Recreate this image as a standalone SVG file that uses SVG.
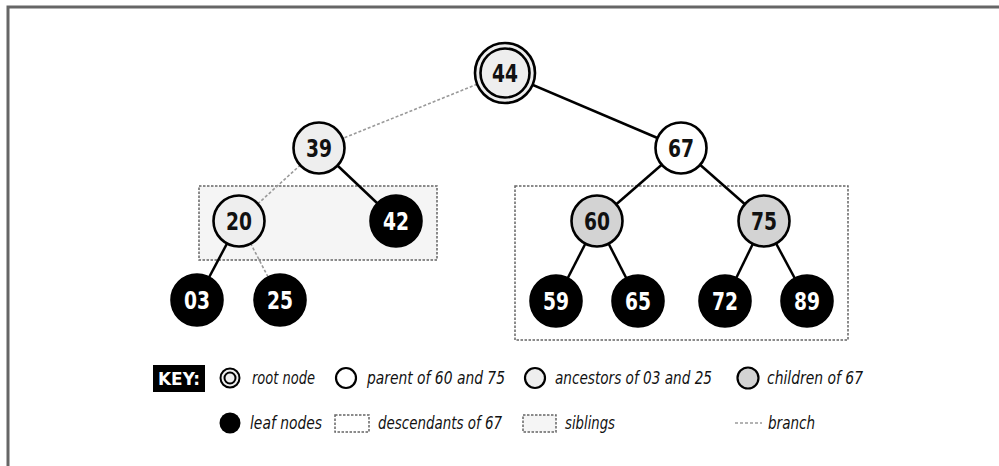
<svg xmlns="http://www.w3.org/2000/svg" width="999" height="466" viewBox="0 0 999 466">
<defs>
<style>
.frame{stroke:#666;stroke-width:3;fill:none}
.n{stroke:#000;stroke-width:2.6}
.root{fill:#eeeeee}
.anc{fill:#eeeeee}
.par{fill:#ffffff}
.chi{fill:#d3d3d3}
.leaf{fill:#000000}
.lbl{font-family:"Liberation Sans Narrow","DejaVu Sans Condensed","Liberation Sans",sans-serif;font-weight:bold;font-size:25px;text-anchor:middle}
.dk{fill:#111}
.wt{fill:#fff}
.edge{stroke:#000;stroke-width:2.5;fill:none}
.br{stroke:#9a9a9a;stroke-width:1.6;stroke-dasharray:3 2;fill:none}
.box{stroke:#666;stroke-width:1.5;stroke-dasharray:2.5 1.5}
.key{font-family:"Liberation Sans Narrow","DejaVu Sans Condensed","Liberation Sans",sans-serif;font-style:italic;font-size:18px;fill:#111}
</style>
</defs>
<rect width="999" height="466" fill="#fff"/>
<path class="frame" d="M8 466 V7 H999"/>
<g id="boxes">
<rect class="box" x="199" y="186" width="238" height="74" fill="#f5f5f5"/>
<rect class="box" x="515" y="186" width="333" height="154" fill="none"/>
</g>
<g id="connectors">
<line class="br" x1="505" y1="73" x2="319" y2="148"/>
<line class="br" x1="319" y1="148" x2="239" y2="221"/>
<line class="br" x1="239" y1="221" x2="280" y2="300"/>
<line class="edge" x1="505" y1="73" x2="681" y2="148"/>
<line class="edge" x1="319" y1="148" x2="396" y2="221"/>
<line class="edge" x1="239" y1="221" x2="197" y2="300"/>
<line class="edge" x1="681" y1="148" x2="597" y2="221"/>
<line class="edge" x1="681" y1="148" x2="764" y2="221"/>
<line class="edge" x1="597" y1="221" x2="556" y2="301"/>
<line class="edge" x1="597" y1="221" x2="638" y2="301"/>
<line class="edge" x1="764" y1="221" x2="725" y2="301"/>
<line class="edge" x1="764" y1="221" x2="807" y2="301"/>
</g>
<g id="n44"><circle class="n root" cx="505" cy="73" r="30"/><circle class="n" fill="none" cx="505" cy="73" r="24.5"/><text class="lbl dk" x="505" y="82" textLength="26" lengthAdjust="spacingAndGlyphs">44</text></g>
<g id="n39"><circle class="n anc" cx="319" cy="148" r="25.5"/><text class="lbl dk" x="319" y="157" textLength="26" lengthAdjust="spacingAndGlyphs">39</text></g>
<g id="n67"><circle class="n par" cx="681" cy="148" r="25.5"/><text class="lbl dk" x="681" y="157" textLength="26" lengthAdjust="spacingAndGlyphs">67</text></g>
<g id="n20"><circle class="n anc" cx="239" cy="221" r="25.5"/><text class="lbl dk" x="239" y="230" textLength="26" lengthAdjust="spacingAndGlyphs">20</text></g>
<g id="n42"><circle class="n leaf" cx="396" cy="221" r="25.5"/><text class="lbl wt" x="396" y="230" textLength="26" lengthAdjust="spacingAndGlyphs">42</text></g>
<g id="n60"><circle class="n chi" cx="597" cy="221" r="25.5"/><text class="lbl dk" x="597" y="230" textLength="26" lengthAdjust="spacingAndGlyphs">60</text></g>
<g id="n75"><circle class="n chi" cx="764" cy="221" r="25.5"/><text class="lbl dk" x="764" y="230" textLength="26" lengthAdjust="spacingAndGlyphs">75</text></g>
<g id="n03"><circle class="n leaf" cx="197" cy="300" r="25.5"/><text class="lbl wt" x="197" y="309" textLength="26" lengthAdjust="spacingAndGlyphs">03</text></g>
<g id="n25"><circle class="n leaf" cx="280" cy="300" r="25.5"/><text class="lbl wt" x="280" y="309" textLength="26" lengthAdjust="spacingAndGlyphs">25</text></g>
<g id="n59"><circle class="n leaf" cx="556" cy="301" r="25.5"/><text class="lbl wt" x="556" y="310" textLength="26" lengthAdjust="spacingAndGlyphs">59</text></g>
<g id="n65"><circle class="n leaf" cx="638" cy="301" r="25.5"/><text class="lbl wt" x="638" y="310" textLength="26" lengthAdjust="spacingAndGlyphs">65</text></g>
<g id="n72"><circle class="n leaf" cx="725" cy="301" r="25.5"/><text class="lbl wt" x="725" y="310" textLength="26" lengthAdjust="spacingAndGlyphs">72</text></g>
<g id="n89"><circle class="n leaf" cx="807" cy="301" r="25.5"/><text class="lbl wt" x="807" y="310" textLength="26" lengthAdjust="spacingAndGlyphs">89</text></g>
<g id="key">
<rect x="153" y="365" width="52" height="27" fill="#000"/>
<text x="179" y="385" font-family="'Liberation Sans Narrow','DejaVu Sans Condensed',sans-serif" font-weight="bold" font-size="18" fill="#fff" text-anchor="middle" textLength="42" lengthAdjust="spacingAndGlyphs">KEY:</text>
<circle cx="230" cy="378" r="9.5" fill="#eee" stroke="#000" stroke-width="2"/>
<circle cx="230" cy="378" r="5.5" fill="none" stroke="#000" stroke-width="2"/>
<text class="key" x="252" y="384" textLength="63" lengthAdjust="spacingAndGlyphs">root node</text>
<circle cx="346" cy="378" r="10" fill="#fff" stroke="#000" stroke-width="2.2"/>
<text class="key" x="367" y="384" textLength="138" lengthAdjust="spacingAndGlyphs">parent of 60 and 75</text>
<circle cx="535" cy="378" r="10" fill="#eee" stroke="#000" stroke-width="2.2"/>
<text class="key" x="555" y="384" textLength="157" lengthAdjust="spacingAndGlyphs">ancestors of 03 and 25</text>
<circle cx="748" cy="378" r="10.5" fill="#d3d3d3" stroke="#000" stroke-width="2.2"/>
<text class="key" x="767" y="384" textLength="96" lengthAdjust="spacingAndGlyphs">children of 67</text>
<circle cx="230" cy="423" r="10.5" fill="#000"/>
<text class="key" x="250" y="429" textLength="72" lengthAdjust="spacingAndGlyphs">leaf nodes</text>
<rect class="box" x="335" y="415" width="34" height="17" fill="none"/>
<text class="key" x="378" y="429" textLength="124" lengthAdjust="spacingAndGlyphs">descendants of 67</text>
<rect class="box" x="523" y="415" width="33" height="17" fill="#f5f5f5"/>
<text class="key" x="565" y="429" textLength="50" lengthAdjust="spacingAndGlyphs">siblings</text>
<line class="br" x1="735" y1="423" x2="762" y2="423" stroke-width="1.2"/>
<text class="key" x="768" y="429" textLength="47" lengthAdjust="spacingAndGlyphs">branch</text>
</g>
</svg>
